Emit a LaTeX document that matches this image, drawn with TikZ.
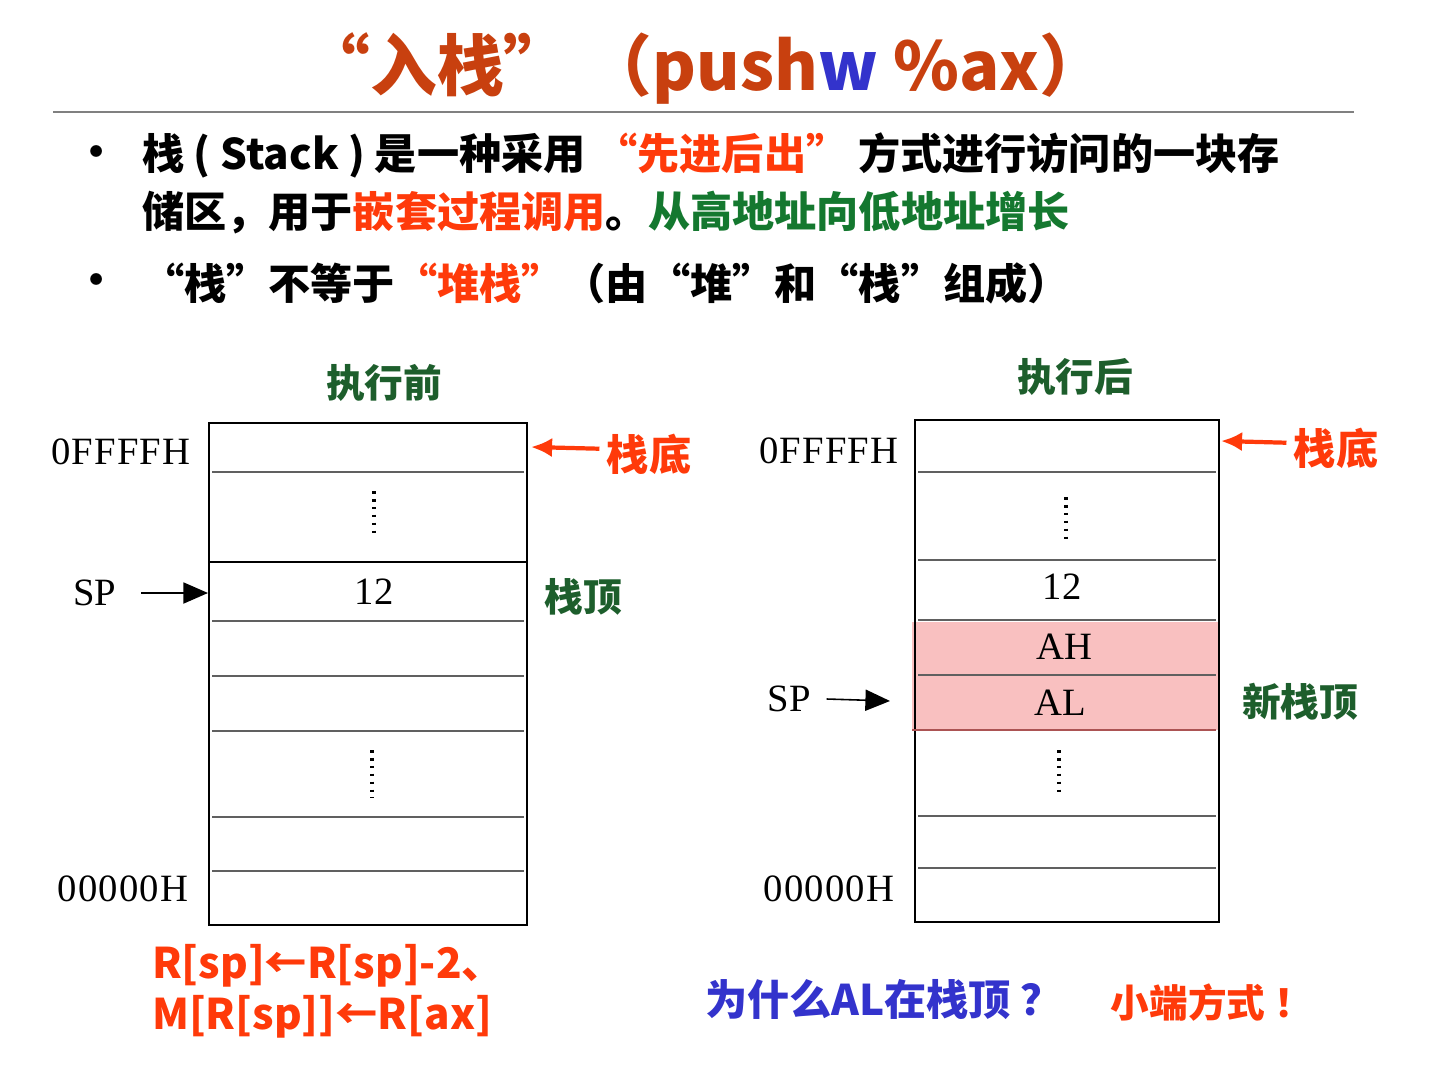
\documentclass[tikz,border=0pt]{standalone}
\usepackage{fontspec}
\setmainfont{Noto Sans CJK SC}
\newfontfamily\memfont{Liberation Serif}
\usetikzlibrary{arrows.meta}
\definecolor{titlered}{HTML}{C8400F}
\definecolor{hotred}{HTML}{FF3A0A}
\definecolor{leafgreen}{HTML}{14782F}
\definecolor{darkgreen}{HTML}{1D5E2C}
\definecolor{askblue}{HTML}{3333CC}
\definecolor{cellpink}{HTML}{F9C0C0}
\tikzset{
    every node/.style={inner sep=1pt},
    mem/.style={font=\memfont\fontsize{22}{22}\selectfont},
    addr/.style={font=\memfont\fontsize{22}{22}\selectfont\addfontfeatures{LetterSpace=3}},
    big/.style={font=\bfseries\fontsize{24}{24}\selectfont},
    greencap/.style={font=\bfseries\fontsize{22}{22}\selectfont, text=darkgreen},
    basecap/.style={font=\bfseries\fontsize{24}{24}\selectfont, text=hotred},
    cellline/.style={draw=gray!75!black, line width=1.5pt},
    dots/.style={line width=1.8pt, dash pattern=on 1.5pt off 3pt},
    sparrow/.style={-{Triangle[length=14pt,width=12pt]}, line width=0.9pt},
    basearrow/.style={-{Latex[length=12pt,width=11pt]}, draw=hotred, line width=2.4pt},
}
\begin{document}
\begin{tikzpicture}[x=0.02cm, y=-0.02cm]
    \useasboundingbox (0,0) rectangle (1437,1075);
    \node[font=\bfseries\fontsize{38}{38}\selectfont, text=titlered] (title) at (705,68) {“入栈” （push{\color{askblue}w} \%ax）};
    \draw[gray, line width=1pt] (53,112) -- (1354,112);
    \node[big] (dot1) at (97,157) {•};
    \node[big] (dot2) at (97,285) {•};
    \node[big, anchor=west] (line1) at (140,155) {栈 ( Stack ) 是一种采用 {\color{hotred}“先进后出”} 方式进行访问的一块存};
    \node[big, anchor=west] (line2) at (140,213) {储区，用于{\color{hotred}嵌套过程调用}。{\color{leafgreen}从高地址向低地址增长}};
    \node[big, anchor=west] (line3) at (140,283) {“栈”不等于{\color{hotred}“堆栈”}（由“堆”和“栈”组成）};
    % before
    \node[greencap] (before) at (384,383) {执行前};
    \draw[line width=1.1pt] (209,423) rectangle (527,925);
    \foreach \y in {472,621,676,731,817,871} \draw[cellline] (212,\y) -- (524,\y);
    \draw[line width=1.4pt] (209,562) -- (527,562);
    \draw[dots] (374,491) -- (374,538);
    \draw[dots] (372,750) -- (372,798);
    \node[mem] (valL) at (374,592) {12};
    \node[addr] (highL) at (121,452) {0FFFFH};
    \node[addr] (lowL) at (123,889) {00000H};
    \node[mem] (spL) at (95,593) {SP};
    \coordinate (spLtip) at (208,593);
    \draw[sparrow] ([xshift=13pt]spL.east) -- (spLtip);
    \node[basecap] (baseL) at (649,454) {栈底};
    \coordinate (baseLtip) at (531,447);
    \draw[basearrow] ([xshift=-3pt,yshift=3pt]baseL.west) -- (baseLtip);
    \node[greencap] (topL) at (583,597) {栈顶};
    % after
    \node[greencap] (after) at (1075,377) {执行后};
    \fill[cellpink] (912,622) rectangle (1219,730);
    \draw[line width=1.1pt] (915,420) rectangle (1219,922);
    \foreach \y in {472,560,620,675,816,868} \draw[cellline] (918,\y) -- (1216,\y);
    \draw[cellline, draw=red!35!gray] (912,730) -- (1216,730);
    \draw[dots] (1066,497) -- (1066,544);
    \draw[dots] (1059,750) -- (1059,796);
    \node[mem] (valR) at (1062,587) {12};
    \node[mem] (ah) at (1064,647) {AH};
    \node[mem] (al) at (1060,703) {AL};
    \node[addr] (highR) at (829,451) {0FFFFH};
    \node[addr] (lowR) at (829,889) {00000H};
    \node[mem] (spR) at (789,699) {SP};
    \coordinate (spRtip) at (890,701);
    \draw[sparrow] ([xshift=8pt]spR.east) -- (spRtip);
    \node[basecap] (baseR) at (1336,448) {栈底};
    \coordinate (baseRtip) at (1221,441);
    \draw[basearrow] ([xshift=-3pt,yshift=3pt]baseR.west) -- (baseRtip);
    \node[greencap] (topR) at (1300,702) {新栈顶};
    % bottom
    \node[font=\bfseries\fontsize{24}{29}\selectfont, text=hotred, anchor=west, align=left] (rule) at (150,991) {R[sp]←R[sp]-2、\\M[R[sp]]←R[ax]};
    \node[font=\bfseries\fontsize{24}{24}\selectfont, text=askblue] (why) at (884,1000) {为什么AL在栈顶 ？};
    \node[font=\bfseries\fontsize{22}{22}\selectfont, text=hotred] (little) at (1212,1003) {小端方式 ！};
\end{tikzpicture}
\end{document}
